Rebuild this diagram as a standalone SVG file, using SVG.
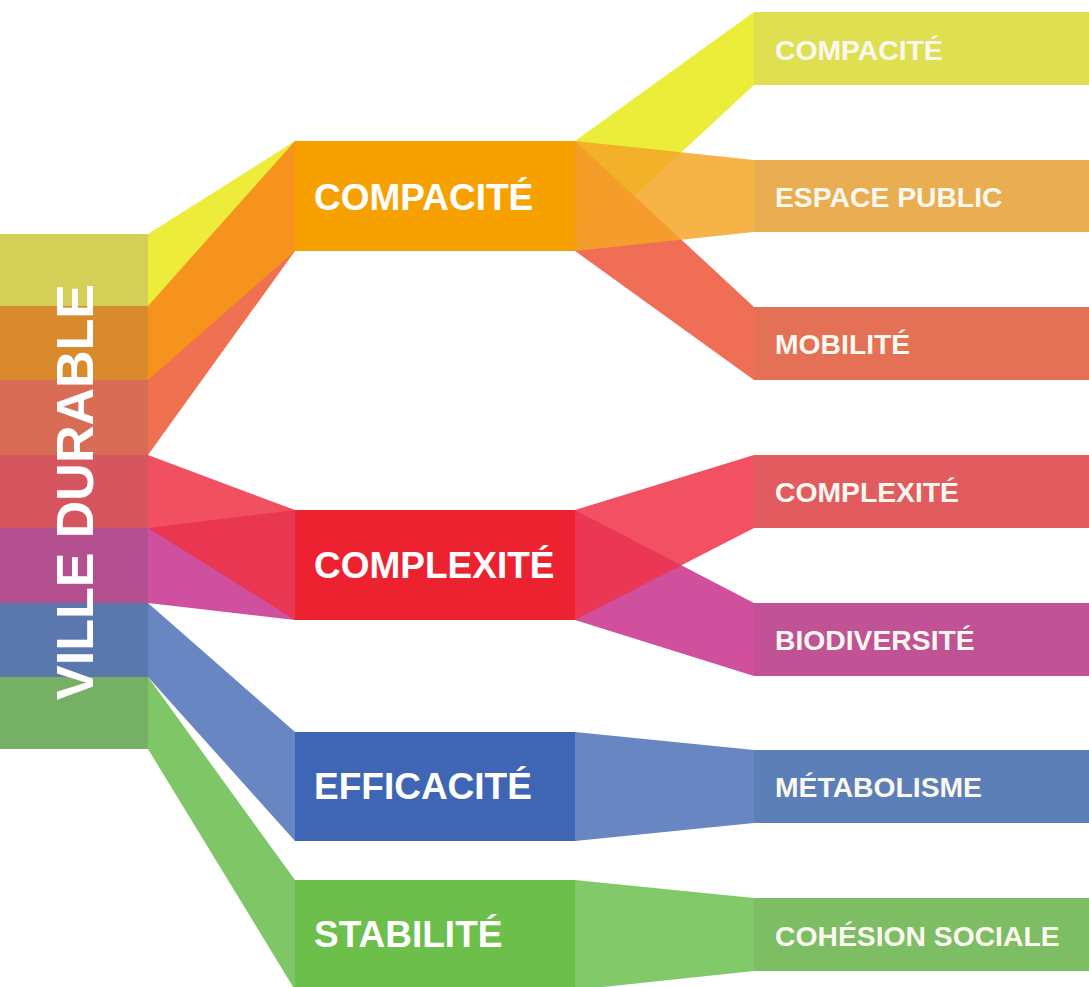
<svg xmlns="http://www.w3.org/2000/svg" width="1089" height="987" viewBox="0 0 1089 987">
  <style>
    .lbl { font-family: "Liberation Sans", Arial, sans-serif; font-weight: bold; fill: #ffffff; }
    .l0 { font-size: 52px; }
    .l1 { font-size: 37px; }
    .l2 { font-size: 28.3px; fill: #fbf8f0; }
    .flow { fill-opacity: 0.85; }
  </style>
  <rect width="1089" height="987" fill="#ffffff"/>

  <!-- flows between the columns -->
  <g id="connectors">
    <!-- root to COMPACITÉ (solid, orange band on top) -->
    <polygon points="148,234 295,141 295,251 148,306" fill="#eeec3a"/>
    <polygon points="148,380 295,141 295,251 148,455" fill="#f07052"/>
    <polygon points="148,306 295,141 295,251 148,380" fill="#f5931c"/>
    <!-- root to COMPLEXITÉ -->
    <polygon class="flow" points="148,528 295,510 295,620 148,603" fill="#c8318f"/>
    <polygon class="flow" points="148,455 295,510 295,620 148,528" fill="#ed3143"/>
    <!-- root to EFFICACITÉ / STABILITÉ -->
    <polygon points="148,603 295,732 295,841 148,677" fill="#6786c2"/>
    <polygon points="148,677 295,880 295,990 148,749" fill="#7fc766"/>

    <!-- COMPACITÉ to its three themes -->
    <polygon class="flow" points="575,141 754,12 754,85 575,251" fill="#e9e919"/>
    <polygon class="flow" points="575,141 754,307 754,380 575,251" fill="#ed5537"/>
    <polygon class="flow" points="575,141 754,160 754,232 575,251" fill="#f4a627"/>
    <!-- COMPLEXITÉ to its two themes -->
    <polygon class="flow" points="575,510 754,603 754,676 575,620" fill="#c8318d"/>
    <polygon class="flow" points="575,510 754,455 754,528 575,620" fill="#f03349"/>
    <!-- EFFICACITÉ / STABILITÉ -->
    <polygon points="575,732 754,750 754,823 575,841" fill="#6786c2"/>
    <polygon points="575,880 754,898 754,971 575,990" fill="#82c96a"/>
  </g>

  <!-- root column -->
  <g id="ville-durable">
    <rect x="0" y="234" width="148" height="72" fill="#d4cf57"/>
    <rect x="0" y="306" width="148" height="74" fill="#d88a2d"/>
    <rect x="0" y="380" width="148" height="75" fill="#d86c54"/>
    <rect x="0" y="455" width="148" height="73" fill="#d5565f"/>
    <rect x="0" y="528" width="148" height="75" fill="#b4508f"/>
    <rect x="0" y="603" width="148" height="74" fill="#5b78ae"/>
    <rect x="0" y="677" width="148" height="72" fill="#76b064"/>
    <text class="lbl l0" text-anchor="middle" transform="translate(93,492) rotate(-90)">VILLE DURABLE</text>
  </g>

  <!-- first level -->
  <g id="n-compacite">
    <rect x="295" y="141" width="280" height="110" fill="#f7a100"/>
    <text class="lbl l1" x="314" y="210">COMPACITÉ</text>
  </g>
  <g id="n-complexite">
    <rect x="295" y="510" width="280" height="110" fill="#ec2231"/>
    <text class="lbl l1" x="314" y="578">COMPLEXITÉ</text>
  </g>
  <g id="n-efficacite">
    <rect x="295" y="732" width="280" height="109" fill="#3f66b4"/>
    <text class="lbl l1" x="314" y="799">EFFICACITÉ</text>
  </g>
  <g id="n-stabilite">
    <rect x="295" y="880" width="280" height="110" fill="#6bbf4a"/>
    <text class="lbl l1" x="314" y="947">STABILITÉ</text>
  </g>

  <!-- second level -->
  <g id="t-compacite">
    <rect x="754" y="12" width="335" height="73" fill="#dfe051"/>
    <text class="lbl l2" x="775" y="60">COMPACITÉ</text>
  </g>
  <g id="t-espace-public">
    <rect x="754" y="160" width="335" height="72" fill="#e9ae52"/>
    <text class="lbl l2" x="775" y="207">ESPACE PUBLIC</text>
  </g>
  <g id="t-mobilite">
    <rect x="754" y="307" width="335" height="73" fill="#e47055"/>
    <text class="lbl l2" x="775" y="354">MOBILITÉ</text>
  </g>
  <g id="t-complexite">
    <rect x="754" y="455" width="335" height="73" fill="#e25b5f"/>
    <text class="lbl l2" x="775" y="502">COMPLEXITÉ</text>
  </g>
  <g id="t-biodiversite">
    <rect x="754" y="603" width="335" height="73" fill="#c15296"/>
    <text class="lbl l2" x="775" y="650">BIODIVERSITÉ</text>
  </g>
  <g id="t-metabolisme">
    <rect x="754" y="750" width="335" height="73" fill="#5c7fb8"/>
    <text class="lbl l2" x="775" y="797">MÉTABOLISME</text>
  </g>
  <g id="t-cohesion-sociale">
    <rect x="754" y="898" width="335" height="73" fill="#7dbd64"/>
    <text class="lbl l2" x="775" y="946">COHÉSION SOCIALE</text>
  </g>
</svg>
